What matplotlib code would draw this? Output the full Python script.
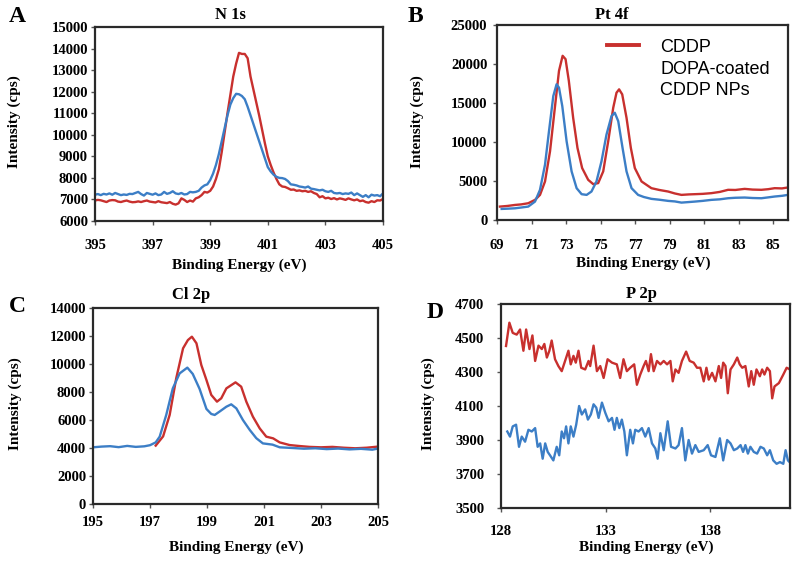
import matplotlib
matplotlib.use("Agg")
import matplotlib.pyplot as plt
from matplotlib.lines import Line2D
import numpy as np

# ---------------- data ----------------
# Panel A : N 1s
n1s_energy = [395.0, 395.1, 395.2, 395.3, 395.4, 395.5, 395.6, 395.7, 395.8, 395.9,
              396.0, 396.1, 396.2, 396.3, 396.4, 396.5, 396.6, 396.7, 396.8, 396.9,
              397.0, 397.1, 397.2, 397.3, 397.4, 397.5, 397.6, 397.7, 397.8, 397.9,
              398.0, 398.1, 398.2, 398.3, 398.4, 398.5, 398.6, 398.7, 398.8, 398.9,
              399.0, 399.1, 399.2, 399.3, 399.4, 399.5, 399.6, 399.7, 399.8, 399.9,
              400.0, 400.1, 400.2, 400.3, 400.4, 400.5, 400.6, 400.7, 400.8, 400.9,
              401.0, 401.1, 401.2, 401.3, 401.4, 401.5, 401.6, 401.7, 401.8, 401.9,
              402.0, 402.1, 402.2, 402.3, 402.4, 402.5, 402.6, 402.7, 402.8, 402.9,
              403.0, 403.1, 403.2, 403.3, 403.4, 403.5, 403.6, 403.7, 403.8, 403.9,
              404.0, 404.1, 404.2, 404.3, 404.4, 404.5, 404.6, 404.7, 404.8, 404.9,
              405.0]
n1s_cddp = [6950, 6980, 6960, 6920, 6880, 6950, 6970, 6960, 6900, 6880,
            6920, 6950, 6900, 6870, 6880, 6910, 6880, 6920, 6950, 6900,
            6880, 6860, 6920, 6870, 6850, 6830, 6880, 6800, 6760, 6820,
            7050, 6980, 6880, 6950, 6900, 7050, 7100, 7200, 7350, 7320,
            7400, 7600, 7950, 8400, 9200, 10100, 11000, 11850, 12700, 13300,
            13800, 13750, 13750, 13550, 12700, 12100, 11500, 10900, 10250, 9600,
            9000, 8600, 8250, 7950, 7700, 7600, 7580, 7520, 7450, 7460,
            7400, 7420, 7380, 7400, 7350, 7380, 7300, 7250, 7100, 7150,
            7050, 7080, 7020, 7060, 7000, 7050, 7020, 6980, 7050, 7000,
            6960, 7000, 6920, 6950, 6880, 6850, 6920, 6880, 6960, 6950,
            7020]
n1s_nps = [7220, 7250, 7200, 7260, 7230, 7280, 7220, 7300, 7250, 7200,
           7230, 7210, 7260, 7250, 7300, 7350, 7250, 7180, 7300, 7260,
           7220, 7280, 7200, 7230, 7350, 7260, 7300, 7380, 7280, 7250,
           7300, 7230, 7250, 7350, 7330, 7350, 7400, 7550, 7650, 7700,
           7900, 8200, 8600, 9100, 9700, 10300, 10900, 11400, 11700, 11900,
           11880, 11800, 11650, 11300, 10900, 10500, 10100, 9700, 9300, 8900,
           8500, 8300, 8150, 8050, 8000, 7990, 7950, 7850, 7700, 7680,
           7650, 7600, 7580, 7550, 7600, 7500, 7480, 7450, 7420, 7450,
           7380, 7350, 7400, 7300, 7280, 7300, 7250, 7280, 7260, 7320,
           7200, 7280, 7200, 7120, 7200, 7100, 7220, 7180, 7200, 7150,
           7280]

# Panel B : Pt 4f
pt_energy_cddp = [69.17, 69.6, 70.04, 70.4, 70.81, 71.2, 71.49, 71.78, 72.07, 72.35,
                  72.59, 72.80, 72.97, 73.16, 73.41, 73.66, 73.93, 74.28, 74.57, 74.86,
                  75.15, 75.44, 75.73, 75.92, 76.07, 76.25, 76.5, 76.75, 76.98, 77.37,
                  77.94, 78.4, 78.91, 79.3, 79.68, 80.1, 80.45, 80.9, 81.41, 81.9,
                  82.38, 82.8, 83.34, 83.8, 84.31, 84.7, 85.08, 85.5, 85.85]
pt_cddp = [1720, 1800, 1930, 2000, 2150, 2580, 3220, 4940, 8800, 14390,
           19120, 21050, 20620, 17830, 13100, 9240, 6660, 5150, 4600, 4730,
           6230, 10100, 14390, 16320, 16750, 16110, 13100, 9240, 6660, 4940,
           4080, 3850, 3650, 3400, 3220, 3280, 3310, 3350, 3440, 3600,
           3870, 3850, 3990, 3900, 3870, 3950, 4080, 4050, 4170]
pt_energy_nps = [69.27, 69.6, 70.04, 70.4, 70.81, 71.2, 71.49, 71.78, 72.01, 72.26,
                 72.45, 72.59, 72.78, 73.03, 73.32, 73.61, 73.90, 74.19, 74.47, 74.76,
                 75.05, 75.34, 75.63, 75.82, 76.02, 76.27, 76.5, 76.79, 77.17, 77.5,
                 77.94, 78.4, 78.91, 79.3, 79.68, 80.1, 80.45, 80.9, 81.41, 81.9,
                 82.38, 82.8, 83.34, 83.8, 84.31, 84.7, 85.08, 85.5, 85.85]
pt_nps = [1420, 1450, 1500, 1600, 1720, 2360, 3870, 7090, 11380, 15890,
          17400, 16970, 14600, 10100, 6230, 4080, 3310, 3220, 3650, 4940,
          7520, 10950, 13320, 13750, 12670, 9240, 6230, 4080, 3220, 2950,
          2710, 2600, 2450, 2380, 2230, 2300, 2360, 2450, 2580, 2650,
          2790, 2850, 2880, 2820, 2790, 2900, 3010, 3100, 3220]

# Panel C : Cl 2p
cl_energy_cddp = [197.20, 197.46, 197.69, 197.92, 198.16, 198.33, 198.47, 198.63, 198.80, 198.98,
                  199.15, 199.35, 199.50, 199.68, 200.00, 200.20, 200.38, 200.61, 200.85, 201.08,
                  201.32, 201.55, 201.90, 202.25, 202.6, 203.0, 203.4, 203.8, 204.2, 204.6, 205.0]
cl_cddp = [4170, 4830, 6360, 8980, 11120, 11710, 11950, 11480, 9930, 8860,
           7790, 7310, 7550, 8260, 8690, 8380, 7310, 6240, 5400, 4810,
           4690, 4400, 4210, 4140, 4080, 4050, 4080, 4020, 3980, 4020, 4100]
cl_energy_nps = [195.0, 195.3, 195.6, 195.9, 196.2, 196.5, 196.8, 197.0, 197.2, 197.34,
                 197.57, 197.80, 198.04, 198.31, 198.50, 198.74, 198.98, 199.15, 199.27, 199.44,
                 199.68, 199.85, 200.03, 200.26, 200.50, 200.73, 200.96, 201.30, 201.55, 202.0,
                 202.4, 202.8, 203.2, 203.6, 204.0, 204.4, 204.8, 205.0]
cl_nps = [4050, 4100, 4130, 4060, 4150, 4080, 4120, 4200, 4400, 4810,
          6360, 8260, 9330, 9740, 9290, 8220, 6790, 6430, 6360, 6600,
          6950, 7120, 6830, 6000, 5290, 4700, 4330, 4240, 4050, 4000,
          3950, 3980, 3920, 3960, 3900, 3940, 3880, 3960]

# Panel D : P 2p
p_energy_cddp = [128.24, 128.40, 128.56, 128.75, 128.91, 129.07, 129.20, 129.36, 129.50, 129.63,
                 129.79, 129.95, 130.07, 130.19, 130.31, 130.42, 130.58, 130.74, 130.90, 131.06,
                 131.22, 131.33, 131.46, 131.57, 131.70, 131.83, 132.02, 132.18, 132.26, 132.42,
                 132.58, 132.74, 132.90, 133.09, 133.30, 133.53, 133.69, 133.85, 134.01, 134.17,
                 134.36, 134.49, 134.65, 134.81, 134.92, 135.05, 135.16, 135.29, 135.45, 135.61,
                 135.77, 135.93, 136.09, 136.20, 136.33, 136.48, 136.64, 136.84, 137.01, 137.20,
                 137.36, 137.52, 137.68, 137.81, 137.92, 138.08, 138.24, 138.40, 138.51, 138.61,
                 138.72, 138.83, 138.96, 139.12, 139.28, 139.40, 139.52, 139.67, 139.83, 139.95,
                 140.07, 140.20, 140.36, 140.47, 140.58, 140.71, 140.84, 140.95, 141.06, 141.27,
                 141.48, 141.64, 141.80, 141.86]
p_cddp = [4453, 4590, 4530, 4520, 4550, 4425, 4550, 4435, 4515, 4365,
          4455, 4435, 4465, 4385, 4425, 4485, 4375, 4335, 4305, 4365,
          4425, 4345, 4395, 4355, 4425, 4325, 4315, 4365, 4335, 4455,
          4305, 4335, 4265, 4375, 4355, 4345, 4265, 4375, 4305, 4325,
          4345, 4225, 4285, 4335, 4365, 4305, 4405, 4305, 4365, 4345,
          4365, 4345, 4365, 4245, 4315, 4295, 4365, 4420, 4365, 4355,
          4325, 4325, 4245, 4325, 4255, 4295, 4245, 4335, 4265, 4355,
          4335, 4175, 4315, 4345, 4385, 4345, 4325, 4335, 4215, 4305,
          4225, 4315, 4275, 4315, 4285, 4325, 4305, 4145, 4215, 4235,
          4285, 4325, 4315, 4235]
p_energy_nps = [128.30, 128.43, 128.56, 128.72, 128.86, 128.99, 129.15, 129.31, 129.47, 129.63,
                129.75, 129.87, 129.99, 130.11, 130.23, 130.34, 130.50, 130.66, 130.78, 130.90,
                131.01, 131.11, 131.22, 131.33, 131.46, 131.59, 131.73, 131.86, 132.02, 132.15,
                132.29, 132.42, 132.55, 132.66, 132.82, 132.98, 133.14, 133.30, 133.42, 133.53,
                133.65, 133.77, 133.89, 134.01, 134.17, 134.30, 134.41, 134.57, 134.73, 134.89,
                135.05, 135.21, 135.37, 135.48, 135.61, 135.77, 135.96, 136.12, 136.33, 136.48,
                136.64, 136.80, 136.96, 137.12, 137.28, 137.44, 137.68, 137.87, 138.03, 138.24,
                138.45, 138.61, 138.80, 138.96, 139.12, 139.28, 139.44, 139.56, 139.67, 139.79,
                139.91, 140.07, 140.23, 140.39, 140.55, 140.71, 140.84, 141.00, 141.16, 141.32,
                141.48, 141.59, 141.70, 141.86]
p_nps = [3950, 3920, 3980, 3990, 3860, 3920, 3890, 3960, 3950, 3970,
         3860, 3880, 3790, 3880, 3830, 3810, 3780, 3860, 3810, 3950,
         3910, 3980, 3880, 3980, 3920, 3990, 4100, 4050, 4080, 4020,
         4050, 4110, 4090, 4030, 4120, 4060, 4010, 4030, 3960, 4030,
         3970, 4020, 3950, 3810, 3960, 3880, 3960, 3950, 3970, 3920,
         3970, 3880, 3850, 3790, 3940, 3840, 4010, 3860, 3850, 3870,
         3970, 3780, 3900, 3820, 3870, 3830, 3840, 3870, 3810, 3800,
         3910, 3780, 3900, 3880, 3840, 3850, 3870, 3830, 3870, 3820,
         3860, 3830, 3820, 3860, 3850, 3810, 3840, 3780, 3760, 3770,
         3760, 3840, 3780, 3760]

titles = ["N 1s", "Pt 4f", "Cl 2p", "P 2p"]
letters = ["A", "B", "C", "D"]
legend_labels = ["CDDP", "DOPA-coated\nCDDP NPs"]
xlabel = "Binding Energy (eV)"
ylabel = "Intensity (cps)"

RED = "#C8302E"
BLUE = "#3C7EC6"
W, H = 800, 562
serif = "Liberation Serif"

fig = plt.figure(figsize=(W / 100, H / 100), dpi=100)


def ax_at(l, t, r, b):
    return fig.add_axes([l / W, 1 - b / H, (r - l) / W, (b - t) / H])


def ftxt(x, y, s, **kw):
    fig.text(x / W, 1 - y / H, s, ha="center", va="center", family=serif,
             weight="bold", **kw)


def style(ax, xpad, ypad):
    for sp in ax.spines.values():
        sp.set_linewidth(1.6)
        sp.set_color("#2a2a2a")
    ax.tick_params(axis="both", direction="out", length=3, width=1.0,
                   color="#555555", labelsize=10.5)
    ax.tick_params(axis="x", pad=xpad)
    ax.tick_params(axis="y", pad=ypad)
    for lab in ax.get_xticklabels() + ax.get_yticklabels():
        lab.set_fontfamily(serif)
        lab.set_fontweight("bold")


lw = 1.7

# ---- A ----
axA = ax_at(95, 27, 383, 221)
axA.plot(n1s_energy, n1s_cddp, color=RED, lw=lw)
axA.plot(n1s_energy, n1s_nps, color=BLUE, lw=lw)
axA.set_xlim(395, 405)
axA.set_ylim(6000, 15000)
axA.set_xticks(np.arange(395, 406, 2))
axA.set_yticks(np.arange(6000, 15001, 1000))
style(axA, 10, 2)

# ---- B ----
axB = ax_at(497, 25, 788, 220)
axB.plot(pt_energy_cddp, pt_cddp, color=RED, lw=lw)
axB.plot(pt_energy_nps, pt_nps, color=BLUE, lw=lw)
axB.set_xlim(69, 85.85)
axB.set_ylim(0, 25000)
axB.set_xticks(np.arange(69, 86, 2))
axB.set_yticks(np.arange(0, 25001, 5000))
style(axB, 11, 4)
h_red = Line2D([], [], color=RED, lw=2.8)
h_none = Line2D([], [], color="none")
leg = axB.legend([h_red, h_none], legend_labels, loc="upper right",
                 bbox_to_anchor=(0.975, 0.985), frameon=False,
                 prop={"family": "Liberation Sans", "size": 13},
                 handlelength=1.75, handletextpad=1.2, labelspacing=0.3,
                 borderaxespad=0.2)
for t in leg.get_texts():
    t.set_linespacing(1.32)

# ---- C ----
axC = ax_at(93, 308, 378, 504)
axC.plot(cl_energy_cddp, cl_cddp, color=RED, lw=lw)
axC.plot(cl_energy_nps, cl_nps, color=BLUE, lw=lw)
axC.set_xlim(195, 205)
axC.set_ylim(0, 14000)
axC.set_xticks(np.arange(195, 206, 2))
axC.set_yticks(np.arange(0, 14001, 2000))
style(axC, 6, 2)

# ---- D ----
axD = ax_at(501, 304, 790, 508)
axD.plot(p_energy_cddp, p_cddp, color=RED, lw=lw)
axD.plot(p_energy_nps, p_nps, color=BLUE, lw=lw)
axD.set_xlim(128, 141.8)
axD.set_ylim(3500, 4700)
axD.set_xticks([128, 133, 138])
axD.set_yticks(np.arange(3500, 4701, 200))
style(axD, 9, 9)

# ---- texts ----
ftxt(230, 15, titles[0], fontsize=12)
ftxt(612, 15, titles[1], fontsize=12)
ftxt(191, 295, titles[2], fontsize=12)
ftxt(641, 294, titles[3], fontsize=12)

ftxt(17, 17, letters[0], fontsize=17)
ftxt(415, 17, letters[1], fontsize=17)
ftxt(17, 307, letters[2], fontsize=17)
ftxt(435, 312, letters[3], fontsize=17)

ftxt(239, 265, xlabel, fontsize=11)
ftxt(643, 263, xlabel, fontsize=11)
ftxt(236, 547, xlabel, fontsize=11)
ftxt(646, 547, xlabel, fontsize=11)

ftxt(14, 122, ylabel, fontsize=11, rotation=90)
ftxt(417, 122, ylabel, fontsize=11, rotation=90)
ftxt(15, 404, ylabel, fontsize=11, rotation=90)
ftxt(428, 404, ylabel, fontsize=11, rotation=90)

fig.savefig("out.png", dpi=100)
